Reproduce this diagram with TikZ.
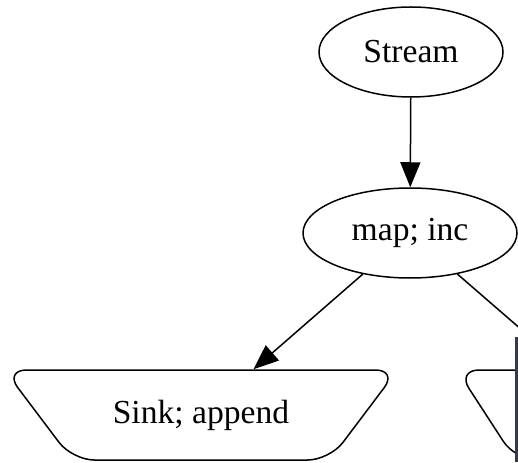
\documentclass[tikz,border=0pt]{standalone}
\usepackage{fontspec}
\setmainfont{Liberation Serif}
\usetikzlibrary{shapes.geometric, arrows.meta, positioning}
\definecolor{StripDark}{RGB}{52,58,70}
\tikzset{
  opnode/.style={draw, ellipse, line width=1.5pt, inner sep=0pt,
    minimum height=90pt, font=\fontsize{33.6}{40}\selectfont},
  sinknode/.style={draw, trapezium, shape border rotate=180, trapezium stretches body,
    line width=1.5pt, rounded corners=22pt, text height=23pt, text depth=7pt,
    inner xsep=0pt, inner ysep=30pt, font=\fontsize{33.6}{40}\selectfont},
  flow/.style={-{Triangle[length=25pt, width=20pt]}, line width=1.5pt},
}

\begin{document}
\begin{tikzpicture}[x=1pt, y=-1pt]
  \path[use as bounding box, clip] (0,0) rectangle (518,462);
  \node[opnode, minimum width=184pt] (stream) at (411,52) {Stream};
  \node[opnode, minimum width=214pt] (mapinc) at (410,233) {map; inc};
  \node[sinknode, minimum width=393pt, trapezium angle=53] (sink) at (201,415) {Sink; append};
  \node[sinknode, minimum width=326pt, trapezium angle=57] (rsink) at (620,415) {};
  \draw[flow] (stream) -- (mapinc);
  \draw[flow] (mapinc) -- (sink);
  \draw[flow] (mapinc) -- (rsink);
  % dark strip on the right edge
  \fill[StripDark] (515,337) rectangle (518,462);
\end{tikzpicture}
\end{document}
